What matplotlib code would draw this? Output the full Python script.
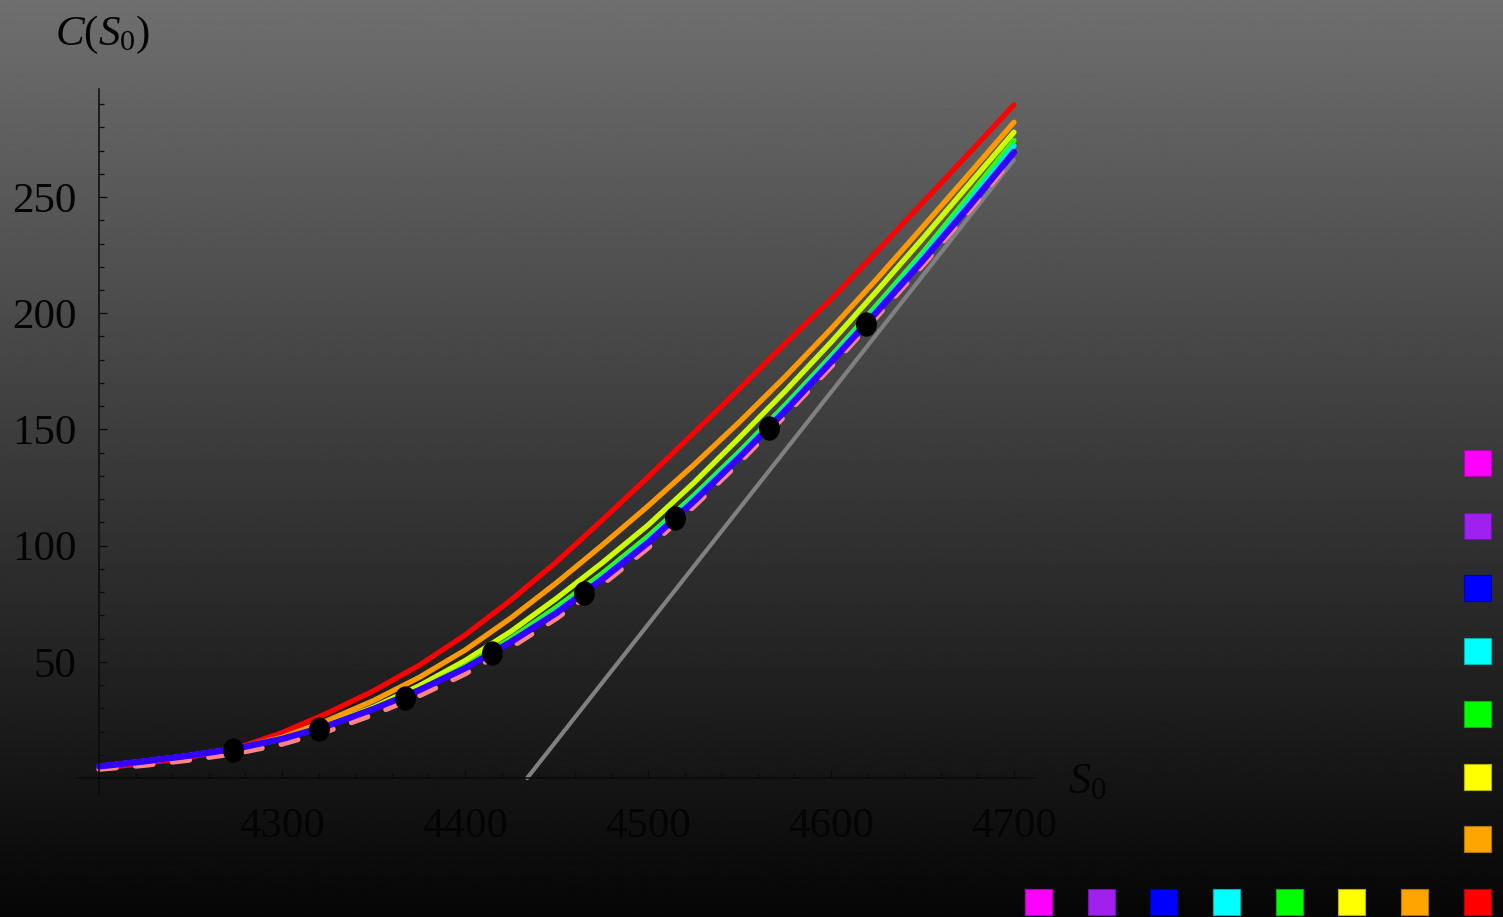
import numpy as np
import matplotlib
matplotlib.use("agg")
from matplotlib import pyplot as plt
from matplotlib.markers import MarkerStyle
from matplotlib.patches import Rectangle
from matplotlib.transforms import Affine2D
from matplotlib.ticker import MultipleLocator
from matplotlib.colors import to_rgb

plt.rcParams['font.family'] = ['Liberation Serif', 'DejaVu Serif']
plt.rcParams['mathtext.fontset'] = 'custom'
plt.rcParams['mathtext.rm'] = 'Liberation Serif'
plt.rcParams['mathtext.it'] = 'Liberation Serif:italic'
plt.rcParams['lines.scale_dashes'] = False

s0 = [4200, 4225, 4250, 4275, 4300, 4325, 4350, 4375, 4400, 4425, 4450,
      4475, 4500, 4525, 4550, 4575, 4600, 4625, 4650, 4675, 4700]
c_red = [4.2, 6.3, 9.0, 12.8, 19.5, 28.0, 37.5, 48.5, 61.5, 76.5, 93.0,
         111.0, 129.5, 148.5, 167.5, 187.0, 206.0, 226.5, 247.5, 268.5, 289.7]
c_orange = [5.0, 7.2, 9.7, 12.7, 17.5, 24.8, 33.3, 43.3, 55.0, 68.8, 84.0,
            100.2, 117.0, 134.7, 153.2, 172.7, 193.2, 214.7, 237.0, 259.5, 282.2]
c_yellow = [5.0, 7.2, 9.7, 12.7, 16.9, 22.8, 30.5, 39.7, 50.5, 63.0, 77.3,
            92.6, 108.8, 127.0, 146.5, 166.5, 187.5, 209.5, 232.0, 255.0, 277.9]
c_green = [5.0, 7.2, 9.7, 12.7, 16.8, 22.5, 29.8, 38.0, 48.0, 60.0, 73.5,
           88.0, 104.0, 121.5, 140.5, 160.5, 181.5, 203.5, 226.0, 250.0, 274.3]
c_cyan = [5.0, 7.2, 9.7, 12.7, 16.8, 22.5, 29.7, 37.9, 47.5, 59.0, 72.0,
          86.5, 102.5, 120.5, 139.5, 159.5, 180.5, 202.0, 224.5, 248.0, 272.1]
c_blue = [5.0, 7.2, 9.7, 12.7, 16.8, 22.5, 29.7, 37.8, 47.2, 58.5, 71.0,
          85.5, 101.2, 119.0, 138.0, 158.0, 179.0, 200.5, 222.5, 245.5, 269.3]
c_pink = [3.8, 5.5, 7.8, 10.6, 14.6, 20.2, 27.3, 35.4, 44.8, 56.2, 68.7,
          83.2, 99.0, 116.8, 135.8, 156.0, 177.0, 198.5, 220.5, 243.5, 267.5]

# payoff line
payoff_s0 = [4434, 4700]
payoff_c = [0, 266]

# black points
dots_s0 = [4273, 4320, 4367, 4415, 4465, 4515, 4566, 4619]
dots_c = [12.1, 21.2, 34.6, 53.7, 79.7, 112.0, 150.6, 195.2]

xticks = [4300, 4400, 4500, 4600, 4700]
yticks = [50, 100, 150, 200, 250]

legend_colors = ['#ff00ff', '#a020f0', '#0000ff', '#00ffff',
                 '#00ff00', '#ffff00', '#ffa500', '#ff0000']

W, H, DPI = 1503, 917, 100
ink = '#040404'

fig = plt.figure(figsize=(W / DPI, H / DPI), dpi=DPI)

# gray-to-black background
bg = fig.add_axes([0, 0, 1, 1], zorder=-10)
grad = np.linspace(0.435, 0.022, 512)[:, None]
bg.imshow(grad, cmap='gray', vmin=0, vmax=1, aspect='auto',
          extent=[0, 1, 0, 1], interpolation='bilinear')
bg.axis('off')

ax = fig.add_axes([77 / W, 1 - 795 / H, 958 / W, 706 / H])
ax.set_facecolor('none')
ax.set_xlim(4188, 4711.5)
ax.set_ylim(-7.3, 296.5)

for side in ('top', 'right'):
    ax.spines[side].set_visible(False)
ax.spines['bottom'].set_position(('data', 0))
ax.spines['left'].set_position(('data', 4200))
for side in ('bottom', 'left'):
    ax.spines[side].set_color('#0a0a0a')
    ax.spines[side].set_linewidth(1.1)

ax.set_xticks([4200] + xticks, [''] + [str(t) for t in xticks])
ax.set_yticks([0] + yticks, [''] + [str(t) for t in yticks])
ax.xaxis.set_minor_locator(MultipleLocator(20))
ax.yaxis.set_minor_locator(MultipleLocator(10))
ax.tick_params(which='both', direction='in', color='#0a0a0a', width=0.9)
ax.tick_params(which='major', length=6)
ax.tick_params(which='minor', length=3.5)
ax.tick_params(axis='x', which='major', labelsize=31, labelcolor=ink, pad=21)
ax.tick_params(axis='y', which='major', labelsize=31, labelcolor=ink, pad=16)

line_kw = dict(solid_capstyle='round', solid_joinstyle='round')
ax.plot(payoff_s0, payoff_c, color='#808080', lw=3.0, **line_kw)
ax.plot(s0, c_red, color='#ff0000', lw=3.8, **line_kw)
ax.plot(s0, c_orange, color='#ff9900', lw=3.8, **line_kw)
ax.plot(s0, c_yellow, color='#ccff00', lw=3.8, **line_kw)
ax.plot(s0, c_green, color='#33ff00', lw=3.8, **line_kw)
ax.plot(s0, c_cyan, color='#00e6e6', lw=3.8, **line_kw)
ax.plot(s0, c_pink, color='#ff8585', lw=3.8, dashes=(12.5, 14),
        dash_capstyle='round')
ax.plot(s0, c_blue, color='#3300ff', lw=4.6, **line_kw)

dot = MarkerStyle('o', transform=Affine2D().scale(1, 1.18))
ax.plot(dots_s0, dots_c, linestyle='none', marker=dot, markersize=14,
        color='black', zorder=10)

fig.text(55 / W, 1 - 45 / H, r'$C(S_0)$', fontsize=31, color=ink,
         ha='left', va='baseline')
fig.text(1068 / W, 1 - 793 / H, r'$S_0$', fontsize=32, color=ink,
         ha='left', va='baseline')

# colour swatches in pixel coordinates
ov = fig.add_axes([0, 0, 1, 1], zorder=5)
ov.set_xlim(0, W)
ov.set_ylim(H, 0)
ov.axis('off')
step = 62.7
for i, c in enumerate(legend_colors):
    edge = tuple(0.7 * v for v in to_rgb(c))
    x = 1038.3 + i * step
    ov.add_patch(Rectangle((x - 13.5, 902 - 13), 27, 26, facecolor=c,
                           edgecolor=edge, lw=0.8))
for i, c in enumerate(legend_colors[:-1]):
    edge = tuple(0.7 * v for v in to_rgb(c))
    y = 463 + i * step
    ov.add_patch(Rectangle((1477.5 - 13.5, y - 13), 27, 26, facecolor=c,
                           edgecolor=edge, lw=0.8))

fig.savefig('out.png', dpi=DPI)
